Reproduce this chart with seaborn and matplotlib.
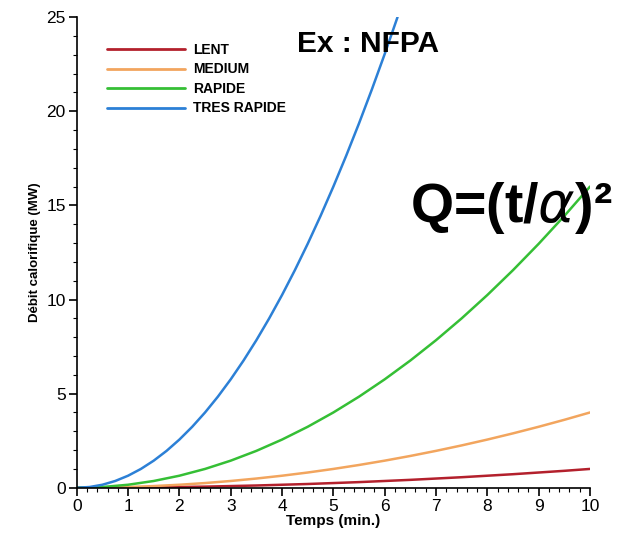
import pandas as pd
import matplotlib.pyplot as plt
import seaborn as sns
from matplotlib.ticker import MultipleLocator

# values (MW vs minutes)
time = [0, 0.5, 1, 1.5, 2, 2.5, 3, 3.5, 4, 4.5, 5, 5.5, 6, 6.5, 7, 7.5, 8, 8.5, 9, 9.5, 10]
lent = [0, 0.00, 0.01, 0.02, 0.04, 0.06, 0.09, 0.12, 0.16, 0.20, 0.25, 0.30, 0.36, 0.42,
        0.49, 0.56, 0.64, 0.72, 0.81, 0.90, 1.00]
medium = [0, 0.01, 0.04, 0.09, 0.16, 0.25, 0.36, 0.49, 0.64, 0.81, 1.00, 1.21, 1.44, 1.69,
          1.96, 2.25, 2.56, 2.89, 3.24, 3.61, 4.00]
rapide = [0, 0.04, 0.16, 0.36, 0.64, 1.00, 1.44, 1.96, 2.56, 3.24, 4.00, 4.84, 5.76, 6.76,
          7.84, 9.00, 10.24, 11.56, 12.96, 14.44, 16.00]
time_tr = [0, 0.25, 0.5, 0.75, 1, 1.25, 1.5, 1.75, 2, 2.25, 2.5, 2.75, 3, 3.25, 3.5, 3.75,
           4, 4.25, 4.5, 4.75, 5, 5.25, 5.5, 5.75, 6, 6.25]
tres_rapide = [0, 0.04, 0.16, 0.36, 0.64, 1.00, 1.44, 1.96, 2.56, 3.24, 4.00, 4.84, 5.76,
               6.76, 7.84, 9.00, 10.24, 11.56, 12.96, 14.44, 16.00, 17.64, 19.36, 21.16,
               23.04, 25.00]

labels = ["LENT", "MEDIUM", "RAPIDE", "TRES RAPIDE"]
colors = ["#b3202c", "#f2a55e", "#35bf35", "#2c80d6"]

df = pd.concat([
    pd.DataFrame({"t": time, "q": lent, "vitesse": "LENT"}),
    pd.DataFrame({"t": time, "q": medium, "vitesse": "MEDIUM"}),
    pd.DataFrame({"t": time, "q": rapide, "vitesse": "RAPIDE"}),
    pd.DataFrame({"t": time_tr, "q": tres_rapide, "vitesse": "TRES RAPIDE"}),
])

sns.set_style("ticks")
plt.rcParams["font.family"] = ["Liberation Sans", "DejaVu Sans"]
plt.rcParams["text.color"] = "black"
plt.rcParams["axes.labelcolor"] = "black"

fig = plt.figure(figsize=(6.29, 5.36), dpi=100)
ax = fig.add_axes([0.122, 0.090, 0.816, 0.878])

sns.lineplot(data=df, x="t", y="q", hue="vitesse", hue_order=labels,
             palette=dict(zip(labels, colors)), linewidth=1.8, ax=ax)

ax.set_xlim(0, 10)
ax.set_ylim(0, 25)
ax.xaxis.set_major_locator(MultipleLocator(1))
ax.xaxis.set_minor_locator(MultipleLocator(0.2))
ax.yaxis.set_major_locator(MultipleLocator(5))
ax.yaxis.set_minor_locator(MultipleLocator(1))
ax.tick_params(which="major", length=6, width=1.2, labelsize=12.5, colors="black", pad=2)
ax.tick_params(which="minor", length=3, width=0.8, colors="black")
for s in ["top", "right"]:
    ax.spines[s].set_visible(False)
for s in ["left", "bottom"]:
    ax.spines[s].set_linewidth(1.2)
    ax.spines[s].set_color("black")

ax.set_xlabel("Temps (min.)", fontsize=11, fontweight="bold", labelpad=0)
ax.set_ylabel("Débit calorifique (MW)", fontsize=9.5, fontweight="bold", labelpad=4)

leg = ax.legend(loc="upper left", bbox_to_anchor=(0.035, 0.972), frameon=False,
                handlelength=5.6, handletextpad=0.6, labelspacing=0.4,
                prop={"weight": "bold", "size": 10})
for h in leg.get_lines():
    h.set_linewidth(2)

fig.text(0.472, 0.918, "Ex : NFPA", fontsize=21.5, fontweight="bold", va="center")
fig.text(0.652, 0.612, r"Q=(t/$\alpha$)²", fontsize=40, fontweight="bold", va="center")

fig.savefig("out.png", dpi=100)
